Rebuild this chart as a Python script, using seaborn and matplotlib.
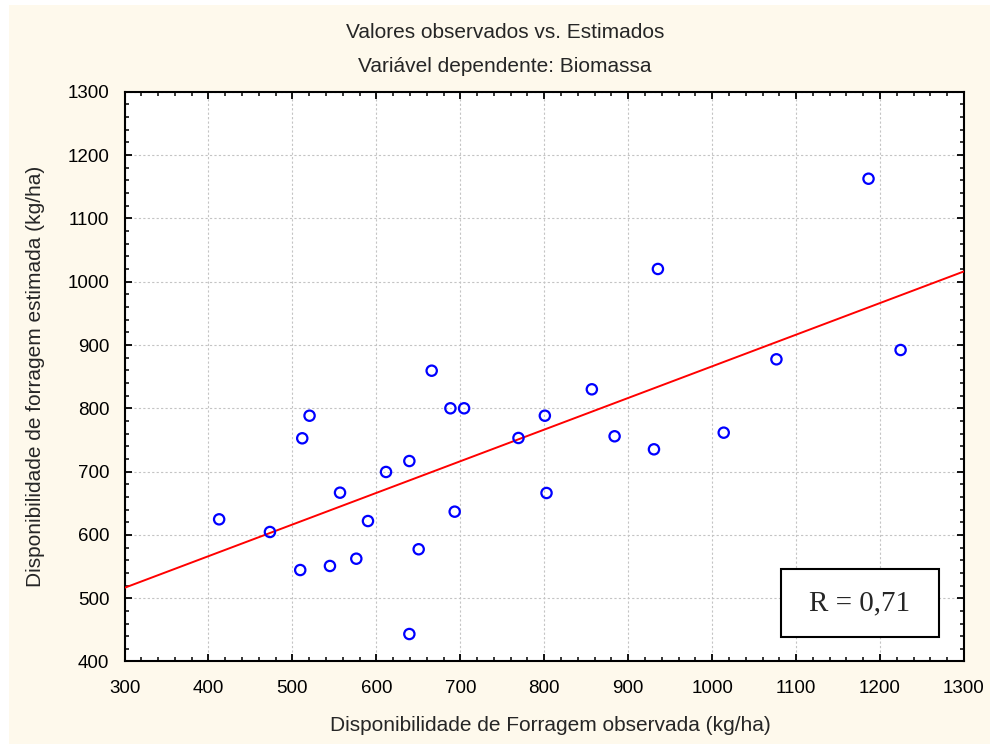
import numpy as np
import pandas as pd
import matplotlib
matplotlib.use("Agg")
import matplotlib.pyplot as plt
from matplotlib.patches import Rectangle
from matplotlib.ticker import MultipleLocator
import seaborn as sns

# Observed vs. estimated forage availability (kg/ha)
observada = [412.7, 473.2, 509.3, 511.7, 520.4, 544.7, 556.7, 576.1, 590.0,
             611.5, 639.3, 639.3, 650.4, 665.9, 688.2, 704.5, 693.3, 769.3,
             800.7, 802.7, 856.7, 883.8, 930.7, 935.4, 1013.8, 1076.6,
             1186.3, 1224.5]
estimada = [624.6, 604.6, 544.5, 752.6, 788.3, 550.9, 666.7, 562.4, 621.9,
            699.4, 716.7, 443.4, 577.3, 859.4, 800.0, 800.0, 636.7, 753.1,
            788.3, 666.2, 830.0, 755.8, 735.2, 1020.1, 761.5, 877.4,
            1162.7, 892.1]
r_label = "R = 0,71"

titulo = "Valores observados vs. Estimados"
subtitulo = "Variável dependente: Biomassa"
x_label = "Disponibilidade de Forragem observada (kg/ha)"
y_label = "Disponibilidade de forragem estimada (kg/ha)"

df = pd.DataFrame({"obs": observada, "est": estimada})

sns.set_style("white")
plt.rcParams["font.family"] = ["Liberation Sans", "DejaVu Sans"]

fig = plt.figure(figsize=(9.9, 7.44), dpi=100, facecolor="white")
# cream panel behind the chart
fig.patches.append(Rectangle((9 / 990, 0), 1 - 9 / 990, 1 - 5 / 744,
                             transform=fig.transFigure, facecolor="#fef9ec",
                             edgecolor="none", zorder=-10))

ax = fig.add_axes([0.1258, 0.1109, 0.8479, 0.7657])
ax.set_facecolor("white")
ax.set_xlim(300, 1300)
ax.set_ylim(400, 1300)

sns.regplot(data=df, x="obs", y="est", ax=ax, ci=None, truncate=False,
            scatter=False, line_kws=dict(color="#ff0000", lw=1.4, zorder=3))
sns.scatterplot(data=df, x="obs", y="est", ax=ax, marker="o", s=55,
                facecolor="none", edgecolor="#0000ff", linewidth=1.6,
                zorder=4)

ax.set_xlim(300, 1300)
ax.set_ylim(400, 1300)
ax.xaxis.set_major_locator(MultipleLocator(100))
ax.xaxis.set_minor_locator(MultipleLocator(20))
ax.yaxis.set_major_locator(MultipleLocator(100))
ax.yaxis.set_minor_locator(MultipleLocator(20))

ax.grid(True, which="major", color="#c4c4c4", linestyle=(0, (2, 2)),
        linewidth=0.8)
ax.set_axisbelow(True)

for sp in ax.spines.values():
    sp.set_visible(True)
    sp.set_color("black")
    sp.set_linewidth(1.5)

ax.tick_params(which="both", direction="in", top=True, right=True,
               bottom=True, left=True, colors="black", labelsize=13.5)
ax.tick_params(axis="x", which="major", pad=13)
ax.tick_params(axis="y", which="major", pad=11)
ax.tick_params(which="major", length=5, width=1.3)
ax.tick_params(which="minor", length=3, width=1.1)

ax.set_xlabel(x_label, fontsize=15, va="center")
ax.set_ylabel(y_label, fontsize=15, va="center")
ax.xaxis.set_label_coords(0.507, -0.113)
ax.yaxis.set_label_coords(-0.1066, 0.5)

fig.text(505 / 990, 1 - 33 / 744, titulo, ha="center", va="center",
         fontsize=15)
fig.text(505 / 990, 1 - 66 / 744, subtitulo, ha="center", va="center",
         fontsize=15)

# correlation box
ax.add_patch(Rectangle((0.782, 0.043), 0.188, 0.119, transform=ax.transAxes,
                       facecolor="white", edgecolor="black", linewidth=1.5,
                       zorder=5))
ax.text(0.876, 0.1025, r_label, transform=ax.transAxes, ha="center",
        va="center", fontsize=21, family=["Liberation Serif", "DejaVu Serif"],
        zorder=6)

fig.savefig("out.png", dpi=100, facecolor=fig.get_facecolor())
